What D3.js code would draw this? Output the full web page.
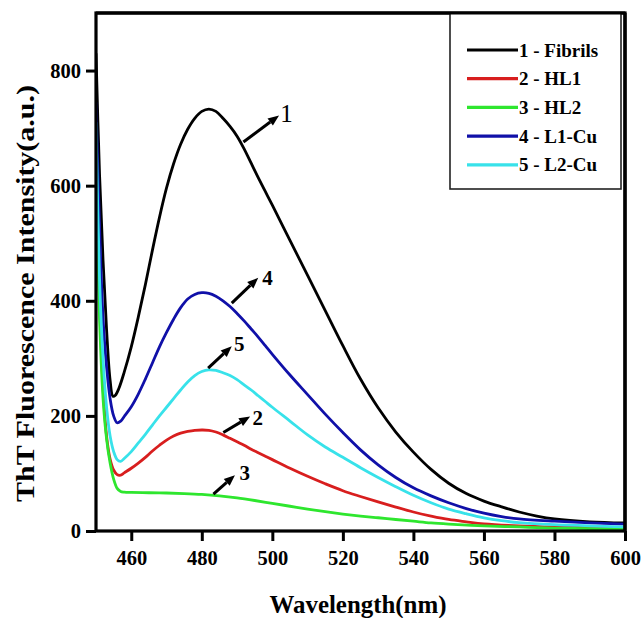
<!DOCTYPE html>
<html>
<head>
<meta charset="utf-8">
<script src="https://cdn.jsdelivr.net/npm/d3@7"></script>
<style>
  body { margin: 0; background: #fff; }
  svg { display: block; }
  text { font-family: "Liberation Serif", "Times New Roman", serif; font-weight: bold; fill: #000; }
</style>
</head>
<body>
<svg id="chart" width="642" height="618"></svg>
<script>
// ThT fluorescence emission spectra, [wavelength nm, intensity a.u.]
const fibrils = [[450,830],[451,620],[452,470],[453,350],[454,262],[454.8,234],[455.5,236],[456.5,248],[458,276],[460,320],[462,372],[464,428],[466,488],[468,545],[470,596],[472,638],[474,672],[476,698],[478,717],[480,729],[482,733],[484,729],[486,717],[488,703],[490,686],[492,664],[494,639],[496,614],[498,590],[500,566],[505,505],[510,444],[515,383],[520,322],[525,264],[530,214],[535,172],[540,137],[545,107],[550,83],[555,65],[560,52],[565,42],[570,33],[575,26],[580,21],[590,16],[600,14]];
const hl1 = [[450,640],[451,400],[452,250],[453,165],[454,125],[455,106],[456,98],[457,97],[458,101],[460,109],[462,118],[464,128],[466,139],[468,149],[470,158],[472,165],[474,170],[476,173],[478,175],[480,175.5],[482,175],[484,172],[486,167],[488,161],[490,155],[492,149],[494,142],[496,136],[498,130],[500,124],[505,109],[510,95],[515,82],[520,70],[525,60],[530,50.5],[535,41.5],[540,33],[545,26],[550,20],[555,16],[560,12.5],[570,9],[580,7],[590,6],[600,5]];
const hl2 = [[450,620],[451,370],[452,230],[453,160],[454,118],[455,90],[456,74],[457,68.5],[458,67.5],[460,67],[465,66.5],[470,66],[475,65],[480,63.5],[485,61],[490,57.5],[495,53],[500,48],[505,43],[510,38],[515,33.5],[520,29.5],[525,26],[530,23],[535,20],[540,17],[545,14],[550,12],[560,9],[570,7],[580,5],[590,4],[600,3]];
const l1cu = [[450,745],[451,530],[452,370],[453,285],[454,230],[455,200],[456,188],[457,191],[458,199],[460,216],[462,238],[464,264],[466,292],[468,320],[470,345],[472,368],[474,388],[476,403],[478,411],[480,414],[482,413],[484,408],[486,400],[488,390],[490,378],[492,365],[494,351],[496,337],[498,322],[500,307],[505,271],[510,237],[515,203],[520,171],[525,141],[530,115],[535,93],[540,75],[545,61],[550,49],[555,39],[560,31],[565,25],[570,21],[580,17],[590,14],[600,12]];
const l2cu = [[450,710],[451,440],[452,300],[453,215],[454,165],[455,138],[456,124],[457,121],[458,126],[460,138],[462,153],[464,168],[466,184],[468,200],[470,215],[472,230],[474,245],[476,259],[478,270],[480,277],[482,280],[484,279],[486,275],[488,270],[490,263],[492,254],[494,245],[496,235],[498,225],[500,215],[505,191],[510,167],[515,146],[520,128],[525,110],[530,93],[535,77],[540,62],[545,49],[550,38],[555,30],[560,23],[565,18],[570,14.5],[580,11],[590,9],[600,7]];

const seriesLabels = ["1 - Fibrils", "2 - HL1", "3 - HL2", "4 - L1-Cu", "5 - L2-Cu"];
const seriesData = [fibrils, hl1, hl2, l1cu, l2cu];
const seriesColors = ["#000000", "#d81e1e", "#2ee62e", "#1010a8", "#38e2ea"];

const xTicks = [460, 480, 500, 520, 540, 560, 580, 600];
const yTicks = [0, 200, 400, 600, 800];

// Arrow callouts: tail and head in data units, then label anchor
const callouts = [
  { label: "1", tail: [491.8, 676], head: [501.9, 722], text: [504.0, 710], bold: false, size: 25 },
  { label: "4", tail: [488.5, 396], head: [496.0, 440], text: [498.6, 428], bold: true, size: 21 },
  { label: "5", tail: [481.8, 283], head: [488.5, 321], text: [490.6, 312], bold: true, size: 21 },
  { label: "2", tail: [486.1, 171], head: [493.7, 199], text: [495.9, 184], bold: true, size: 21 },
  { label: "3", tail: [483.3, 64],  head: [489.4, 97],  text: [492.2, 89],  bold: true, size: 21 }
];

const svg = d3.select("#chart");
const m = { left: 96, right: 625, top: 13, bottom: 531 };

const x = d3.scaleLinear().domain([450, 600]).range([m.left, m.right]);
const y = d3.scaleLinear().domain([0, 900]).range([m.bottom, m.top]);

svg.append("defs").append("clipPath").attr("id", "plotClip")
  .append("rect").attr("x", m.left).attr("y", m.top)
  .attr("width", m.right - m.left).attr("height", m.bottom - m.top);

// Spectra
const line = d3.line().x(d => x(d[0])).y(d => y(d[1])).curve(d3.curveCatmullRom.alpha(0.5));
svg.append("g").attr("clip-path", "url(#plotClip)")
  .selectAll("path").data(seriesData).join("path")
  .attr("d", d => line(d))
  .attr("fill", "none")
  .attr("stroke", (d, i) => seriesColors[i])
  .attr("stroke-width", 2.8)
  .attr("stroke-linejoin", "round");

// Axes
const xAxis = svg.append("g").attr("transform", `translate(0,${m.bottom})`)
  .call(d3.axisBottom(x).tickValues(xTicks).tickSize(10).tickPadding(9).tickFormat(d3.format("d")));
const yAxis = svg.append("g").attr("transform", `translate(${m.left},0)`)
  .call(d3.axisLeft(y).tickValues(yTicks).tickSize(10).tickPadding(5).tickFormat(d3.format("d")));
[xAxis, yAxis].forEach(a => {
  a.select(".domain").remove();
  a.selectAll(".tick line").attr("stroke", "#000").attr("stroke-width", 3);
  a.selectAll(".tick text").style("font-size", "20.5px").style("font-family", "'Liberation Serif', serif").style("font-weight", "bold").attr("fill", "#000");
});

// Frame
svg.append("rect").attr("x", m.left).attr("y", m.top)
  .attr("width", m.right - m.left).attr("height", m.bottom - m.top)
  .attr("fill", "none").attr("stroke", "#000").attr("stroke-width", 3.2);

// Legend
const lg = svg.append("g");
lg.append("rect").attr("x", 450).attr("y", m.top).attr("width", 171).attr("height", 176)
  .attr("fill", "#fff").attr("stroke", "#222").attr("stroke-width", 1.6);
seriesLabels.forEach((lab, i) => {
  const cy = 50 + i * 28.7;
  lg.append("line").attr("x1", 467).attr("x2", 518).attr("y1", cy).attr("y2", cy)
    .attr("stroke", seriesColors[i]).attr("stroke-width", 3.2);
  lg.append("text").attr("x", 519).attr("y", cy).attr("dy", "0.35em")
    .style("font-size", "19px").text(lab);
});
// redraw top and right frame edges over the legend box
svg.append("line").attr("x1", m.right).attr("x2", m.right).attr("y1", m.top).attr("y2", m.bottom)
  .attr("stroke", "#000").attr("stroke-width", 3.2);
svg.append("line").attr("x1", m.left).attr("x2", m.right).attr("y1", m.top).attr("y2", m.top)
  .attr("stroke", "#000").attr("stroke-width", 3.2);

// Callout arrows
const arrows = svg.append("g");
callouts.forEach(c => {
  const x0 = x(c.tail[0]), y0 = y(c.tail[1]);
  const x1 = x(c.head[0]), y1 = y(c.head[1]);
  const ang = Math.atan2(y1 - y0, x1 - x0);
  const hl = 11, hw = 4.5;
  const bx = x1 - hl * Math.cos(ang), by = y1 - hl * Math.sin(ang);
  arrows.append("line").attr("x1", x0).attr("y1", y0).attr("x2", bx).attr("y2", by)
    .attr("stroke", "#000").attr("stroke-width", 3);
  const pts = [
    [x1, y1],
    [bx + hw * Math.sin(ang), by - hw * Math.cos(ang)],
    [bx - hw * Math.sin(ang), by + hw * Math.cos(ang)]
  ];
  arrows.append("polygon").attr("points", pts.map(p => p.join(",")).join(" ")).attr("fill", "#000");
  arrows.append("text").attr("x", x(c.text[0])).attr("y", y(c.text[1]))
    .attr("text-anchor", "middle")
    .style("font-size", c.size + "px")
    .style("font-weight", c.bold ? "bold" : "normal")
    .text(c.label);
});

// Axis titles
svg.append("text").attr("x", 358).attr("y", 613).attr("text-anchor", "middle")
  .style("font-size", "25px").attr("textLength", 177).attr("lengthAdjust", "spacingAndGlyphs")
  .text("Wavelength(nm)");
svg.append("text").attr("transform", "translate(34,293.5) rotate(-90)").attr("text-anchor", "middle")
  .style("font-size", "25px").attr("textLength", 417).attr("lengthAdjust", "spacingAndGlyphs")
  .text("ThT Fluorescence Intensity(a.u.)");
</script>
</body>
</html>
